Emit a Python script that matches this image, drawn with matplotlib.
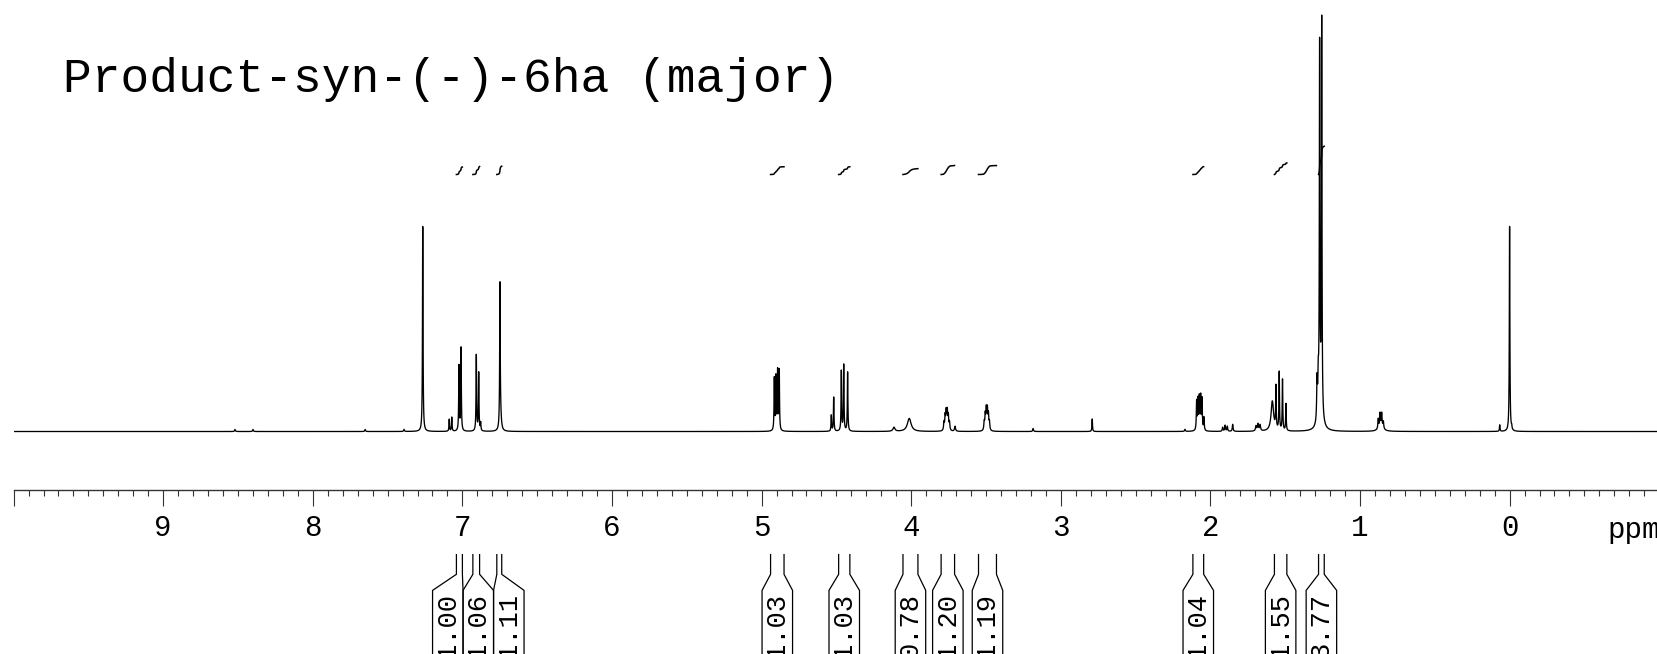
import numpy as np
import matplotlib.pyplot as plt

plt.rcParams['font.family'] = ['Liberation Mono', 'DejaVu Sans Mono']
plt.rcParams['path.simplify'] = False

title = "Product-syn-(-)-6ha (major)"

# peak list: shift (ppm), height (px above baseline), half width (ppm)
shifts = [8.52, 8.40, 7.65, 7.39,
          7.265, 7.088, 7.071, 7.023, 7.009, 6.907, 6.891, 6.878, 6.749, 6.745,
          4.915, 4.904, 4.893, 4.882, 4.534, 4.518, 4.467, 4.451, 4.425,
          4.115, 4.013,
          3.781, 3.773, 3.766, 3.759, 3.752, 3.744, 3.707,
          3.512, 3.505, 3.498, 3.491, 3.484, 3.477,
          3.185, 2.79, 2.17,
          2.092, 2.083, 2.074, 2.065, 2.056, 2.043,
          1.918, 1.902, 1.887, 1.851, 1.695, 1.682, 1.668,
          1.586, 1.562, 1.540, 1.518, 1.495,
          1.287, 1.279, 1.270, 1.256, 1.265,
          0.878, 0.866, 0.855, 0.844, 0.86,
          0.066, 0.0, -0.014]
heights = [2, 2, 2, 2,
           205, 12, 14, 65, 83, 76, 58, 8, 140, 14,
           52, 53, 59, 60, 16, 34, 60, 66, 59,
           4, 13,
           8, 14, 18, 18, 14, 8, 5,
           8, 15, 20, 20, 15, 8,
           3, 12.5, 2,
           29, 30, 32, 33, 31, 13,
           4, 6, 5, 7, 5, 7, 6,
           30, 42, 58, 51, 27,
           40, 35, 362, 392, 20,
           10, 14, 14, 7, 4,
           6.5, 205, 3]
widths = [0.003, 0.003, 0.003, 0.003,
          0.0022, 0.0022, 0.0022, 0.0022, 0.0022, 0.0022, 0.0022, 0.0022, 0.0022, 0.006,
          0.0022, 0.0022, 0.0022, 0.0022, 0.0022, 0.0022, 0.0022, 0.0022, 0.0022,
          0.008, 0.015,
          0.003, 0.003, 0.003, 0.003, 0.003, 0.003, 0.004,
          0.003, 0.003, 0.003, 0.003, 0.003, 0.003,
          0.003, 0.0022, 0.003,
          0.0025, 0.0025, 0.0025, 0.0025, 0.0025, 0.0025,
          0.003, 0.003, 0.003, 0.003, 0.004, 0.004, 0.004,
          0.01, 0.0022, 0.0022, 0.0022, 0.0022,
          0.003, 0.003, 0.0022, 0.0022, 0.015,
          0.003, 0.003, 0.003, 0.003, 0.02,
          0.0022, 0.0022, 0.0022]

# integrals: start / end (ppm) and values
int_start = [7.04, 6.93, 6.77, 4.94, 4.485, 4.055, 3.80, 3.55, 2.117, 1.572, 1.277]
int_end = [7.00, 6.885, 6.737, 4.85, 4.41, 3.955, 3.71, 3.43, 2.045, 1.489, 1.239]
int_values = [1.00, 1.06, 1.11, 1.03, 1.03, 0.78, 1.20, 1.19, 1.04, 1.55, 3.77]

tick_ppm = list(range(0, 11))
tick_labels = [str(t) for t in range(0, 10)] + [""]

# ---- layout (pixels)
W, H = 1658, 654
spine_y = 490
base_y = 431.5
x_left, x_right = 10.0, -0.992
left = 13.6 / W

# ---- spectrum
ppm = np.arange(-1.0, 10.0, 0.0004)
ppm = np.sort(np.concatenate([ppm, shifts]))
spec = np.zeros_like(ppm)
for s, h, w in zip(shifts, heights, widths):
    spec += h * w**2 / ((ppm - s)**2 + w**2)

fig = plt.figure(figsize=(W / 100, H / 100), dpi=100)
ax = fig.add_axes([left, (H - spine_y) / H, 1 - left, spine_y / H])
ax.set_xlim(x_left, x_right)
ax.set_ylim(-(spine_y - base_y), base_y)
ax.plot(ppm, spec, color='black', lw=0.95)

# integral curves
int_base = base_y - 174.5
for a, b, v in zip(int_start, int_end, int_values):
    m = (ppm <= a) & (ppm >= b)
    xs = ppm[m][::-1]
    cs = np.cumsum(spec[m][::-1])
    cs = (cs - cs[0]) / (cs[-1] - cs[0])
    ax.plot(xs, int_base + cs * v * 7.5, color='black', lw=1.1)

for s in ['top', 'left', 'right']:
    ax.spines[s].set_visible(False)
ax.spines['bottom'].set_color('#333333')
ax.spines['bottom'].set_linewidth(1.0)
ax.set_yticks([])
ax.set_xticks(tick_ppm)
ax.set_xticklabels(tick_labels)
ax.set_xticks(np.round(np.arange(-0.9, 10.0, 0.1), 1), minor=True)
ax.tick_params(axis='x', which='major', direction='out', length=11.3, width=0.8,
               color='#333333', labelsize=21, pad=6)
ax.tick_params(axis='x', which='minor', direction='out', length=4, width=0.8,
               color='#333333')

# ---- integral labels below the axis
ax2 = fig.add_axes([left, 0, 1 - left, (H - spine_y) / H])
ax2.set_xlim(x_left, x_right)
ax2.set_ylim(H, spine_y)
ax2.axis('off')
ax2.text(-0.655, 530, 'ppm', fontsize=21, ha='left', va='center')

bw = 30.5 / 149.6
centers = [(a + b) / 2 for a, b in zip(int_start, int_end)]
# spread overlapping boxes around their group mean
groups = [[i] for i in range(len(centers))]
changed = True
pos = list(centers)
while changed:
    changed = False
    for g in groups:
        mean = np.mean([centers[i] for i in g])
        n = len(g)
        for k, i in enumerate(g):
            pos[i] = mean + ((n - 1) / 2 - k) * bw
    for j in range(len(groups) - 1):
        g1, g2 = groups[j], groups[j + 1]
        if pos[g1[-1]] - pos[g2[0]] < bw - 1e-9:
            groups[j] = g1 + g2
            del groups[j + 1]
            changed = True
            break

for a, b, c, v in zip(int_start, int_end, pos, int_values):
    hw = bw / 2
    ax2.plot([a, a, c + hw, c + hw], [554.6, 574.3, 590.4, 660], color='black', lw=0.9, clip_on=False)
    ax2.plot([b, b, c - hw, c - hw], [554.6, 574.3, 590.4, 660], color='black', lw=0.9, clip_on=False)
    ax2.text(c, 593, f"{v:.2f}", rotation=90, fontsize=19.5, ha='center', va='top')

fig.text(63 / W, 1 - 79 / H, title, fontsize=34.5, ha='left', va='center')

fig.savefig("out.png", dpi=100)
